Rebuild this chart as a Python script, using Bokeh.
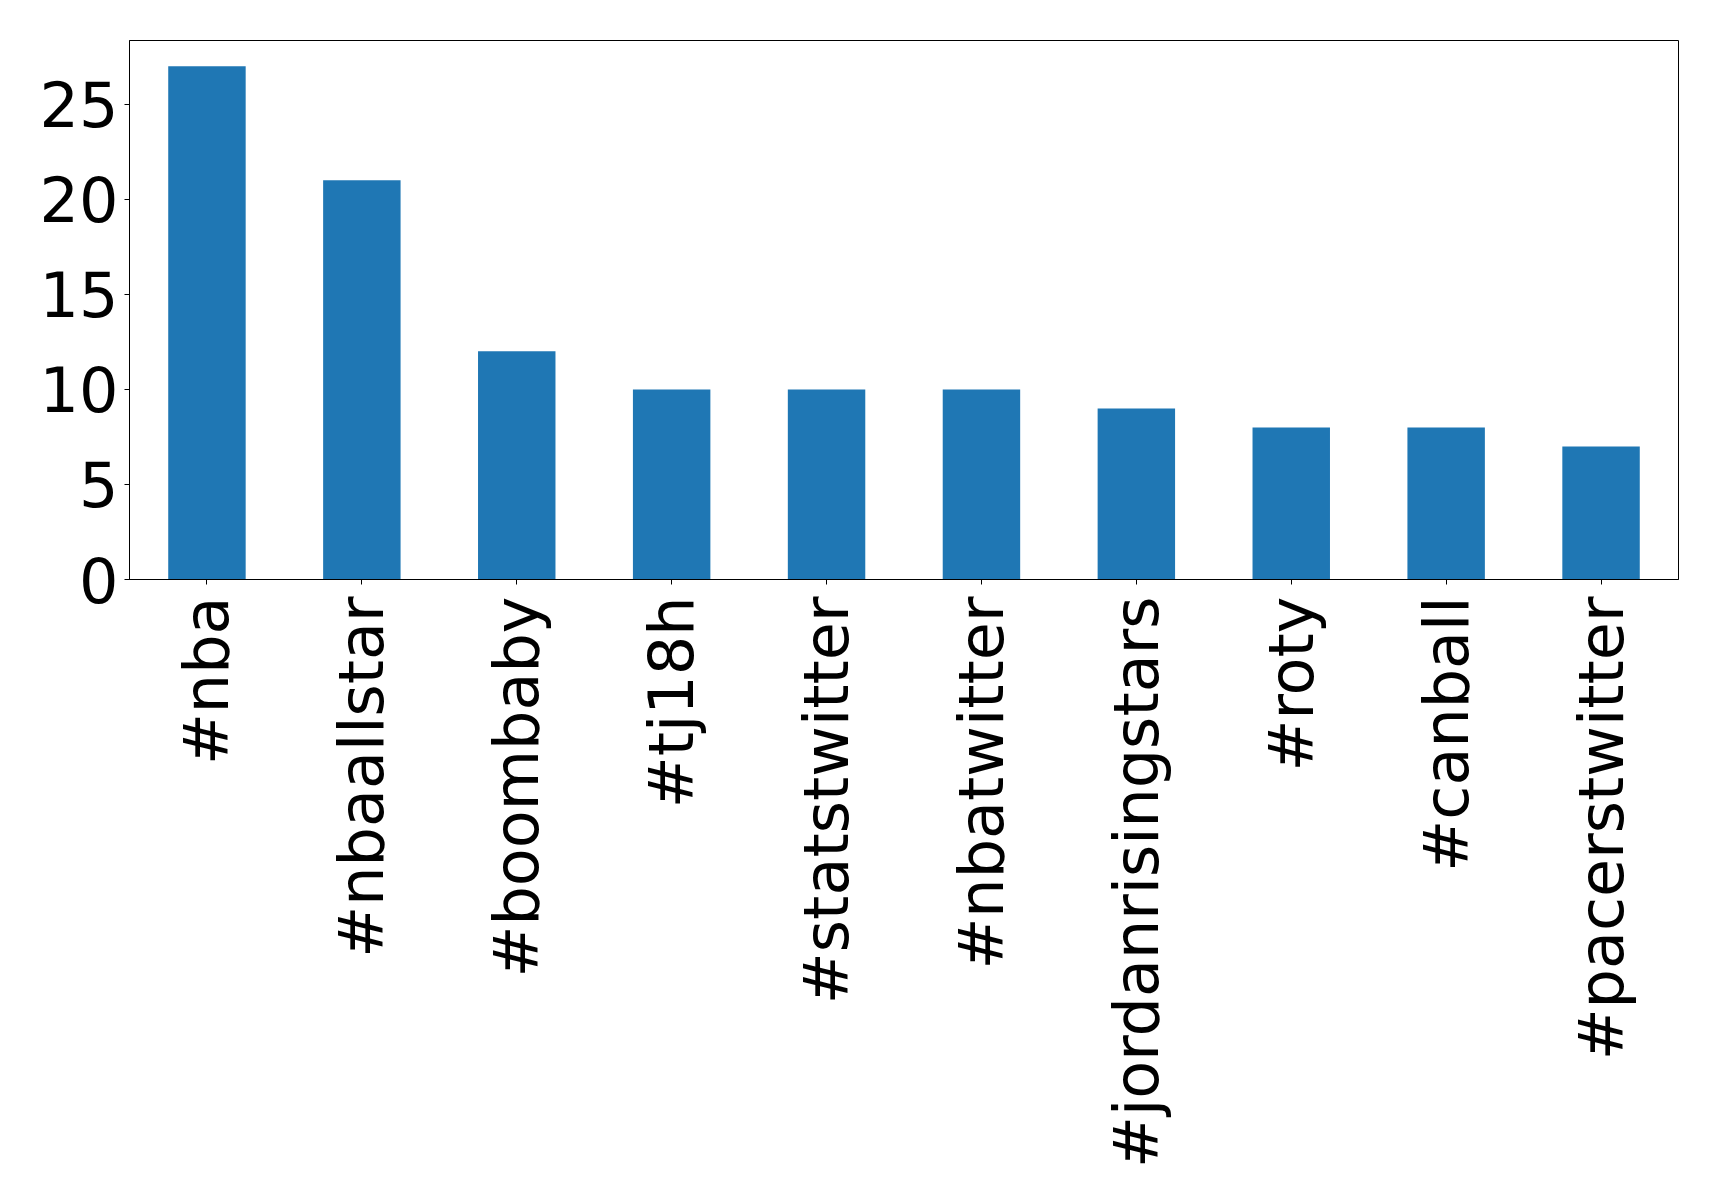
from bokeh.plotting import figure
from bokeh.models import FixedTicker, Range1d, FactorRange
from bokeh.embed import file_html
from bokeh.resources import INLINE
import math

hashtags = ["#nba", "#nbaallstar", "#boombaby", "#tj18h", "#statstwitter",
            "#nbatwitter", "#jordanrisingstars", "#roty", "#canball", "#pacerstwitter"]
counts = [27, 21, 12, 10, 10, 10, 9, 8, 8, 7]
y_ticks = [0, 5, 10, 15, 20, 25]

p = figure(x_range=FactorRange(*hashtags), y_range=Range1d(0, max(counts) * 1.05),
           width=1703, height=1188, output_backend="svg", toolbar_location=None,
           min_border_left=129, min_border_right=25, min_border_top=40, min_border_bottom=609)

p.vbar(x=hashtags, top=counts, width=0.5, color="#1f77b4", line_color=None)

p.xgrid.visible = False
p.ygrid.visible = False
p.outline_line_color = "black"
p.outline_line_width = 1
p.outline_line_alpha = 1

for ax in (p.xaxis, p.yaxis):
    ax.axis_line_color = "black"
    ax.major_tick_line_color = "black"
    ax.major_tick_out = 5
    ax.major_tick_in = 0
    ax.minor_tick_line_color = None
    ax.major_label_text_font = "DejaVu Sans"
    ax.major_label_text_font_size = "62px"
    ax.major_label_text_color = "black"

p.yaxis.ticker = FixedTicker(ticks=y_ticks)
p.yaxis.major_label_standoff = 6
p.xaxis.major_label_orientation = math.pi / 2
p.xaxis.major_label_standoff = 12

open("out.html", "w").write(file_html(p, INLINE))
